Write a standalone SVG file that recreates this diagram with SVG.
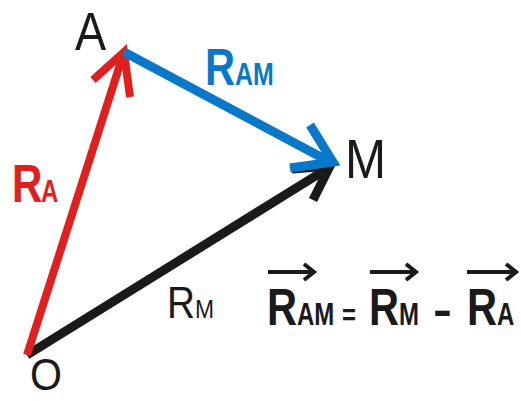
<svg xmlns="http://www.w3.org/2000/svg" width="521" height="401" viewBox="0 0 521 401">
<style>
.thin{font-family:"Liberation Sans",Arial,sans-serif;fill:#1a1a1a}
.bold{font-family:"Liberation Sans",Arial,sans-serif;font-weight:bold}
.ln{fill:none;stroke-linecap:butt;stroke-linejoin:miter}
.red{stroke:#e0201e;stroke-width:8}
.blue{stroke:#0a78c8;stroke-width:9}
.blk{stroke:#1a1a1a;stroke-width:9}
.vec{fill:none;stroke:#1a1a1a;stroke-width:4}
</style>
<rect width="521" height="401" fill="#ffffff"/>
<g id="connectors">
<g id="RM-vector"><line class="ln blk" x1="27" y1="355" x2="330" y2="167"/><polyline class="ln blk" points="292,169 330,166 313,200"/></g>
<g id="RA-vector"><line class="ln red" x1="27" y1="355" x2="124" y2="52"/><polyline class="ln red" points="93,80 124,52 130,97"/></g>
<g id="RAM-vector"><line class="ln blue" x1="124" y1="52" x2="332" y2="163"/><polyline class="ln blue" points="310,125 333,162 290,168"/></g>
</g>
<g id="A"><text class="thin" transform="translate(75,50) scale(0.88,1)" font-size="53">A</text></g>
<g id="M"><text class="thin" transform="translate(345,178) scale(0.88,1)" font-size="56">M</text></g>
<g id="O"><text class="thin" transform="translate(30,390) scale(0.98,1.05)" font-size="42">O</text></g>
<g id="label-RA" fill="#e0201e"><text class="bold" transform="translate(12,202) scale(0.78,1)" font-size="54">R</text><text class="bold" transform="translate(41,202) scale(0.75,1)" font-size="32">A</text></g>
<g id="label-RAM" fill="#0a78c8"><text class="bold" transform="translate(205,85) scale(0.8,1)" font-size="52">R</text><text class="bold" transform="translate(235,85) scale(0.78,1)" font-size="32">AM</text></g>
<g id="label-RM"><text class="thin" transform="translate(167,318) scale(0.88,1)" font-size="44">R</text><text class="thin" transform="translate(195,318) scale(0.88,1)" font-size="26">M</text></g>
<g id="equation" fill="#1a1a1a">
<text class="bold" transform="translate(267,325) scale(0.8,1)" font-size="52">R</text>
<text class="bold" transform="translate(297,325) scale(0.75,1)" font-size="32">AM</text>
<text class="bold" transform="translate(342,325) scale(0.8,1)" font-size="30">=</text>
<text class="bold" transform="translate(369,325) scale(0.8,1)" font-size="52">R</text>
<text class="bold" transform="translate(399,325) scale(0.75,1)" font-size="32">M</text>
<text class="bold" transform="translate(433,325) scale(1.3,1)" font-size="44">-</text>
<text class="bold" transform="translate(467,325) scale(0.8,1)" font-size="52">R</text>
<text class="bold" transform="translate(497,325) scale(0.75,1)" font-size="32">A</text>
<path class="vec" d="M268,272 H314 M304,264 L314,272 L304,280"/>
<path class="vec" d="M370,272 H416 M406,264 L416,272 L406,280"/>
<path class="vec" d="M467,272 H516 M506,264 L516,272 L506,280"/>
</g>
</svg>
